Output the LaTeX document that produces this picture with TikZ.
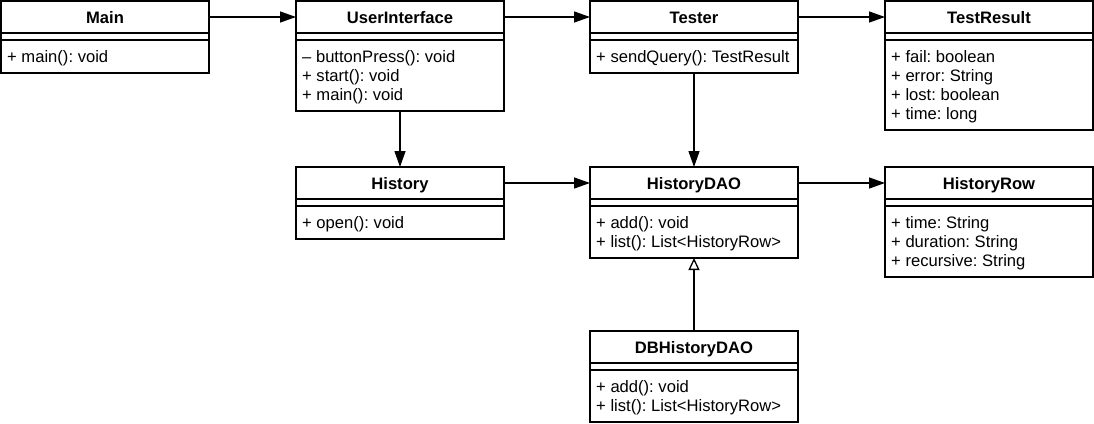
\documentclass[tikz,border=0pt]{standalone}
\usepackage{fontspec}
\setmainfont{Liberation Sans}
\usetikzlibrary{arrows.meta,calc}
\frenchspacing
\tikzset{
  umlbox/.style={draw=black, line width=1.3pt, fill=white, minimum width=208pt, inner sep=0pt, outer sep=0pt, anchor=north west},
  umlhead/.style={minimum width=208pt, minimum height=32pt, inner sep=0pt, outer sep=0pt, text height=13pt, text depth=0pt, font=\fontsize{16.6}{19}\selectfont\bfseries, anchor=north},
  umlitem/.style={inner sep=0pt, anchor=base west, font=\fontsize{16.6}{19}\selectfont},
  sepline/.style={line width=1.3pt},
  assoc/.style={line width=1.3pt, -{Triangle[length=16pt,width=11pt]}},
  inherit/.style={line width=1.3pt, -{Triangle[open,length=12pt,width=11pt,fill=white]}},
}
% name, left, top, title, number of items, items
\newcommand\umlclass[6]{%
  \pgfmathsetmacro\umlh{53+19*#5}%
  \node[umlbox, minimum height=\umlh pt] (#1) at (#2,#3) {};
  \node[umlhead] (#1-h) at (#1.north) {#4};
  \draw[sepline] ($(#1.north west)+(0,32)$) -- ($(#1.north east)+(0,32)$);
  \draw[sepline] ($(#1.north west)+(0,39)$) -- ($(#1.north east)+(0,39)$);
  \foreach \itm [count=\i] in {#6} {\node[umlitem] (#1-\i) at ($(#1.north west)+(6,42+19*\i)$) {\itm};}
}
\begin{document}
\begin{tikzpicture}[x=1pt,y=-1pt]
\useasboundingbox (0,0) rectangle (1094,423);
\umlclass{Main}{1}{1}{Main}{1}{+ main(): void}
\umlclass{UI}{296}{1}{UserInterface}{3}{– buttonPress(): void, + start(): void, + main(): void}
\umlclass{Tester}{590}{1}{Tester}{1}{+ sendQuery(): TestResult}
\umlclass{TestResult}{885}{1}{TestResult}{4}{+ fail: boolean, + error: String, + lost: boolean, + time: long}
\umlclass{History}{296}{167}{History}{1}{+ open(): void}
\umlclass{HistoryDAO}{590}{167}{HistoryDAO}{2}{+ add(): void, + list(): List<HistoryRow>}
\umlclass{HistoryRow}{885}{167}{HistoryRow}{3}{+ time: String, + duration: String, + recursive: String}
\umlclass{DBHistoryDAO}{590}{331}{DBHistoryDAO}{2}{+ add(): void, + list(): List<HistoryRow>}
\draw[assoc] (Main-h) -- (UI-h);
\draw[assoc] (UI-h) -- (Tester-h);
\draw[assoc] (Tester-h) -- (TestResult-h);
\draw[assoc] (UI.south) -- (History.north);
\draw[assoc] (Tester.south) -- (HistoryDAO.north);
\draw[assoc] (History-h) -- (HistoryDAO-h);
\draw[assoc] (HistoryDAO-h) -- (HistoryRow-h);
\draw[inherit] (DBHistoryDAO.north) -- (HistoryDAO.south);
\end{tikzpicture}
\end{document}
